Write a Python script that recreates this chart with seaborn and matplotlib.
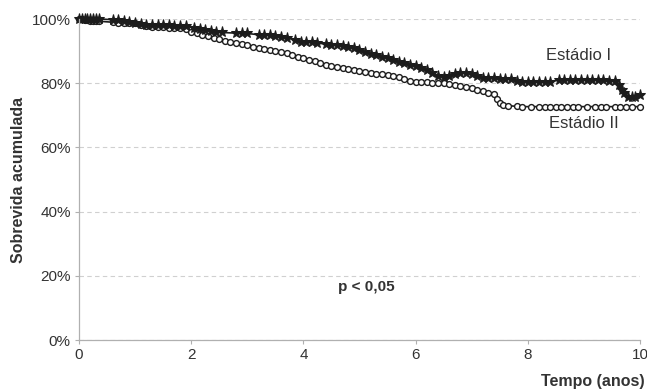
import matplotlib
matplotlib.use("Agg")
import matplotlib.pyplot as plt
import seaborn as sns
import pandas as pd

# Kaplan-Meier curves (time in years, survival in %)
tempo_I = [0.00, 0.05, 0.10, 0.15, 0.20, 0.25, 0.30, 0.35,
           0.60, 0.70, 0.80, 0.90, 1.00, 1.10, 1.20,
           1.30, 1.40, 1.50, 1.60, 1.70, 1.80, 1.90,
           2.05, 2.15, 2.25, 2.35, 2.45, 2.55,
           2.80, 2.90, 3.00, 3.20, 3.30, 3.40, 3.50, 3.60, 3.70, 3.85,
           3.95, 4.05, 4.15, 4.25, 4.40, 4.50, 4.60, 4.70, 4.80, 4.90,
           5.00, 5.10, 5.20, 5.30, 5.40, 5.50, 5.60, 5.70, 5.80, 5.90,
           6.00, 6.10, 6.20, 6.30, 6.40, 6.50, 6.60, 6.70, 6.80, 6.90,
           7.00, 7.10, 7.20, 7.30, 7.40, 7.50, 7.60, 7.70, 7.80, 7.90,
           8.00, 8.10, 8.20, 8.30, 8.40,
           8.55, 8.65, 8.75, 8.85, 8.95, 9.05, 9.15, 9.25, 9.35, 9.45, 9.55,
           9.62, 9.68, 9.72, 9.78, 9.85, 9.92, 10.00]
surv_I = [100, 100, 100, 100, 100, 100, 100, 100,
          99.8, 99.7, 99.5, 99.2, 98.8, 98.5, 98.2,
          98.1, 98.1, 98.0, 98.0, 97.9, 97.9, 97.8,
          97.2, 96.9, 96.6, 96.3, 96.0, 95.8,
          95.6, 95.5, 95.5, 95.1, 95.0, 94.9, 94.8, 94.4, 94.2, 93.5,
          92.9, 92.8, 92.7, 92.6, 92.1, 92.0, 91.9, 91.7, 91.4, 90.9,
          90.2, 89.6, 89.2, 88.8, 88.3, 87.8, 87.2, 86.7, 86.3, 85.8,
          85.3, 84.8, 84.2, 83.2, 82.4, 82.0, 82.4, 83.0, 83.2, 83.2,
          83.0, 82.4, 81.6, 81.5, 81.5, 81.4, 81.4, 81.2, 80.6, 80.5,
          80.5, 80.5, 80.5, 80.4, 80.4,
          81.0, 81.0, 81.0, 81.0, 81.0, 81.0, 81.0, 80.9, 80.9, 80.8, 80.8,
          79.5, 78.0, 76.8, 75.8, 75.6, 75.8, 76.2]

tempo_II = [0.00, 0.05, 0.10, 0.15, 0.20, 0.25, 0.30, 0.35,
            0.60, 0.70, 0.80, 0.90, 1.00, 1.10, 1.20,
            1.30, 1.40, 1.50, 1.60, 1.70, 1.80, 1.90,
            2.00, 2.10, 2.20, 2.30, 2.40, 2.50, 2.60, 2.70, 2.80, 2.90,
            3.00, 3.10, 3.20, 3.30, 3.40, 3.50, 3.60, 3.70, 3.80, 3.90,
            4.00, 4.10, 4.20, 4.30, 4.40, 4.50, 4.60, 4.70, 4.80, 4.90,
            5.00, 5.10, 5.20, 5.30, 5.40, 5.50, 5.60, 5.70, 5.80, 5.90,
            6.00, 6.10, 6.20, 6.30, 6.40, 6.50, 6.60, 6.70, 6.80, 6.90,
            7.00, 7.10, 7.20, 7.30, 7.40, 7.45, 7.50, 7.55, 7.65, 7.80,
            7.90, 8.05, 8.20, 8.30, 8.40, 8.50, 8.60, 8.70, 8.80, 8.90,
            9.05, 9.20, 9.30, 9.40, 9.55, 9.65, 9.75, 9.85, 10.00]
surv_II = [100, 100, 99.8, 99.6, 99.4, 99.3, 99.3, 99.3,
           99.0, 98.9, 98.9, 98.8, 98.6, 98.2, 97.8,
           97.6, 97.5, 97.4, 97.3, 97.2, 97.1, 96.8,
           96.0, 95.5, 95.0, 94.6, 94.2, 93.7, 93.3, 92.9, 92.5, 92.1,
           91.8, 91.4, 91.0, 90.6, 90.2, 89.9, 89.6, 89.3, 88.8, 88.3,
           87.8, 87.3, 86.8, 86.3, 85.8, 85.3, 84.9, 84.6, 84.3, 84.1,
           83.8, 83.5, 83.2, 83.0, 82.8, 82.6, 82.4, 81.9, 81.3, 80.8,
           80.5, 80.4, 80.3, 80.2, 80.1, 80.0, 79.6, 79.3, 79.0, 78.7,
           78.4, 78.0, 77.5, 77.0, 76.5, 75.0, 73.8, 73.2, 73.0, 72.8,
           72.7, 72.7, 72.7, 72.7, 72.7, 72.7, 72.7, 72.7, 72.7, 72.7,
           72.7, 72.7, 72.7, 72.7, 72.7, 72.7, 72.7, 72.7, 72.7]

x_ticks = [0, 2, 4, 6, 8, 10]
y_ticks = [0, 20, 40, 60, 80, 100]

df_I = pd.DataFrame({"tempo": tempo_I, "sobrevida": surv_I})
df_II = pd.DataFrame({"tempo": tempo_II, "sobrevida": surv_II})

sns.set_style("white")
plt.rcParams["font.family"] = ["Liberation Sans", "DejaVu Sans"]

ink = "#1c1c1c"
txt = "#333333"

fig = plt.figure(figsize=(6.47, 3.91), dpi=100)
ax = fig.add_axes([0.1221, 0.1304, 0.867, 0.821])

ax.yaxis.grid(True, linestyle=(0, (4, 3)), color="#d0d0d0", linewidth=0.8)
ax.set_axisbelow(True)

sns.lineplot(data=df_II, x="tempo", y="sobrevida", ax=ax, sort=False,
             estimator=None, color=ink, linewidth=1.2, marker="o",
             markersize=4.2, markerfacecolor="white", markeredgecolor=ink,
             markeredgewidth=1.0, clip_on=False)
sns.lineplot(data=df_I, x="tempo", y="sobrevida", ax=ax, sort=False,
             estimator=None, color=ink, linewidth=1.2, marker="*",
             markersize=8, markerfacecolor=ink, markeredgecolor=ink,
             clip_on=False)

ax.set_xlim(0, 10)
ax.set_ylim(0, 100)
ax.set_xticks(x_ticks)
ax.set_xticklabels([str(v) for v in x_ticks])
ax.set_yticks(y_ticks)
ax.set_yticklabels([f"{v}%" for v in y_ticks])

for s in ["top", "right"]:
    ax.spines[s].set_visible(False)
for s in ["left", "bottom"]:
    ax.spines[s].set_color("#b0b0b0")
    ax.spines[s].set_linewidth(0.9)
ax.tick_params(axis="both", which="major", length=3, width=0.8,
               color="#b0b0b0", labelsize=11, labelcolor=txt,
               bottom=True, left=True, pad=3)

ax.set_xlabel("")
ax.set_ylabel("Sobrevida acumulada", fontsize=11.5, fontweight="bold",
              color=txt, labelpad=4)
fig.text(0.997, 0.025, "Tempo (anos)", ha="right", va="center",
         fontsize=11.5, fontweight="bold", color=txt)

ax.text(8.9, 88.5, "Estádio I", ha="center", va="center", fontsize=12,
        color=txt)
ax.text(9.0, 67.5, "Estádio II", ha="center", va="center", fontsize=12,
        color=txt)
ax.text(5.13, 16.5, "p < 0,05", ha="center", va="center", fontsize=11,
        fontweight="bold", color=txt)

fig.savefig("out.png", dpi=100)
